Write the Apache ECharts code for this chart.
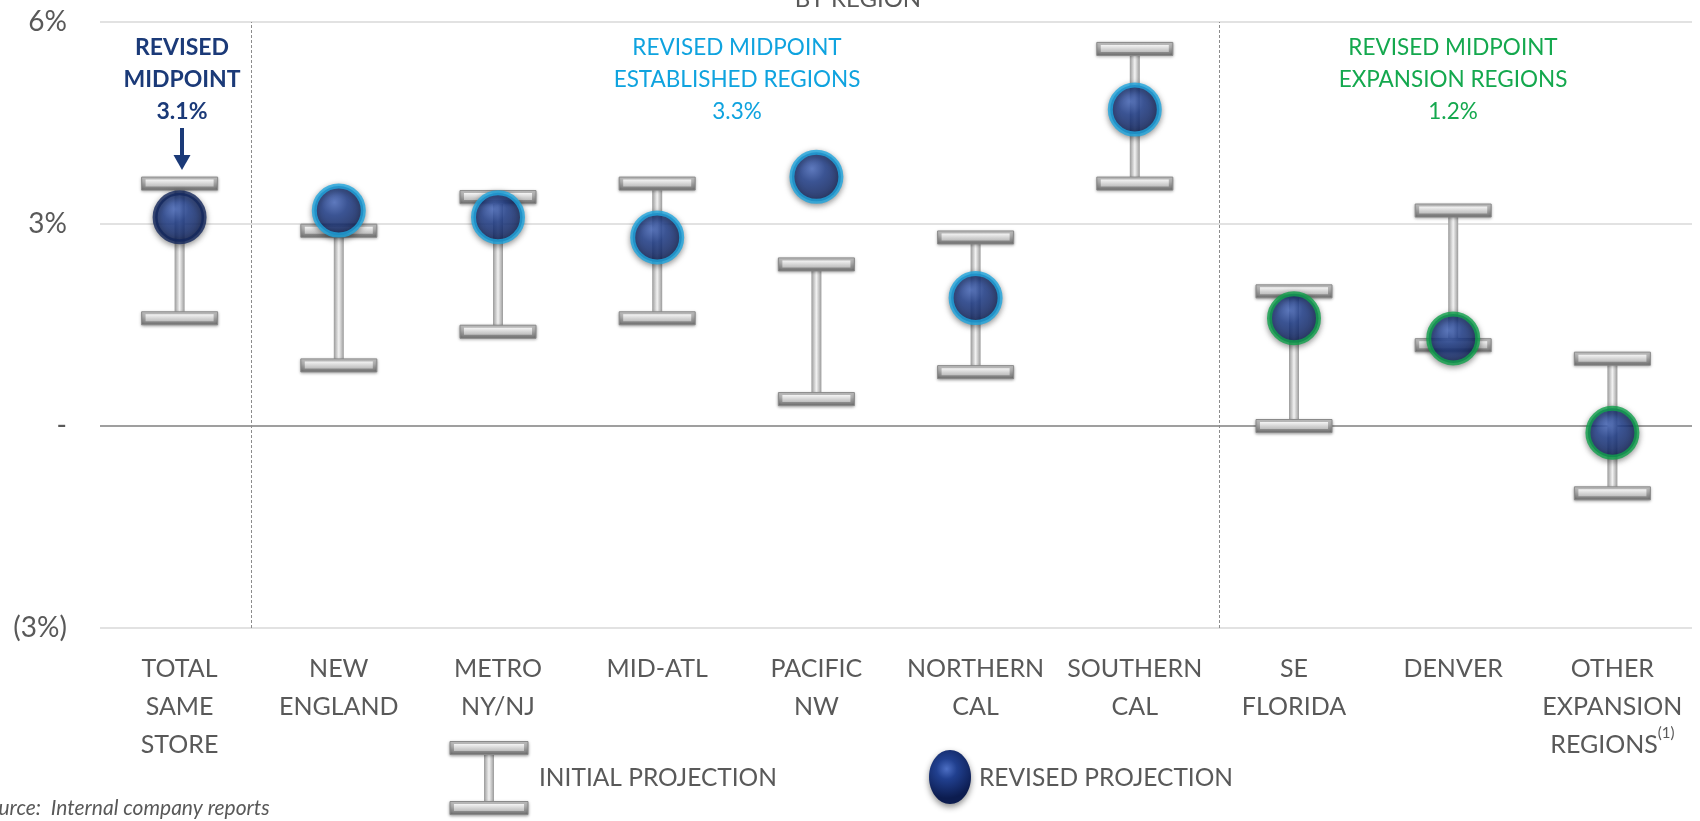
<!DOCTYPE html>
<html>
<head>
<meta charset="utf-8">
<script src="https://cdn.jsdelivr.net/npm/echarts@6/dist/echarts.min.js"></script>
<style>
html,body{margin:0;padding:0;background:#fff;}
#chart{width:1700px;height:821px;}
</style>
</head>
<body>
<div id="chart"></div>
<script>
// ---- data ----
const categories = ['TOTAL\nSAME\nSTORE','NEW\nENGLAND','METRO\nNY/NJ','MID-ATL','PACIFIC\nNW','NORTHERN\nCAL','SOUTHERN\nCAL','SE\nFLORIDA','DENVER','OTHER\nEXPANSION\nREGIONS'];
const initialLow  = [1.6, 0.9, 1.4, 1.6, 0.4, 0.8, 3.6, 0.0, 1.2, -1.0];
const initialHigh = [3.6, 2.9, 3.4, 3.6, 2.4, 2.8, 5.6, 2.0, 3.2, 1.0];
const revised     = [3.1, 3.2, 3.1, 2.8, 3.7, 1.9, 4.7, 1.6, 1.3, -0.1];
const groups      = ['total','est','est','est','est','est','est','exp','exp','exp'];
const yTickValues = [-3, 0, 3, 6];
const yTickLabels = ['(3%)', '-', '3%', '6%'];

const FONT = 'Lato';
const ringColor = { total: '#13275c', est: '#1ea6e0', exp: '#10a24c' };

const barData = categories.map((c, i) => [i, initialLow[i], initialHigh[i]]);
const dotData = revised.map((v, i) => ({
  value: [i, v],
  itemStyle: { borderColor: ringColor[groups[i]] }
}));

function capShape(x, y, w, h) {
  return [
    { type: 'rect', shape: { x: x - w / 2, y: y - h / 2, width: w, height: h },
      style: { fill: new echarts.graphic.LinearGradient(0, 0, 0, 1, [
        { offset: 0, color: '#d6d6d6' }, { offset: 1, color: '#6f6f6f' }]),
        stroke: '#8a8a8a', lineWidth: 1, shadowBlur: 3, shadowColor: 'rgba(0,0,0,0.35)', shadowOffsetY: 1 } },
    { type: 'rect', shape: { x: x - w / 2 + 4, y: y - h / 2 + 2.5, width: w - 8, height: h - 6 },
      style: { fill: new echarts.graphic.LinearGradient(0, 0, 0, 1, [
        { offset: 0, color: '#f4f4f4' }, { offset: 1, color: '#bdbdbd' }]) } }
  ];
}

function renderBar(params, api) {
  const i = api.value(0);
  const lo = api.coord([i, api.value(1)]);
  const hi = api.coord([i, api.value(2)]);
  const x = lo[0];
  const capW = 76, capH = 13, stemW = 10;
  const children = [
    { type: 'rect', shape: { x: x - stemW / 2, y: hi[1], width: stemW, height: lo[1] - hi[1] },
      style: { fill: new echarts.graphic.LinearGradient(0, 0, 1, 0, [
        { offset: 0, color: '#9a9a9a' }, { offset: 0.5, color: '#f2f2f2' }, { offset: 1, color: '#9a9a9a' }]) } }
  ].concat(capShape(x, hi[1], capW, capH), capShape(x, lo[1], capW, capH));
  return { type: 'group', children: children };
}

const dotFill = new echarts.graphic.RadialGradient(0.42, 0.35, 0.7, [
  { offset: 0, color: '#4d6fc4' },
  { offset: 0.35, color: '#21408f' },
  { offset: 1, color: '#0c1c4f' }
]);

const chart = echarts.init(document.getElementById('chart'), null, { renderer: 'canvas' });

const option = {
  backgroundColor: '#ffffff',
  animation: false,
  grid: { left: 100, right: 8, top: 22, bottom: 193 },
  xAxis: [
    {
      type: 'category', data: categories,
      axisLine: { show: false }, axisTick: { show: false },
      axisLabel: {
        interval: 0, margin: 22, color: '#595959', fontFamily: FONT, fontSize: 25, lineHeight: 38,
        formatter: function (v) { return v.replace('REGIONS', 'REGIONS{sup|(1)}'); },
        rich: { sup: { fontSize: 15, color: '#595959', fontFamily: FONT, verticalAlign: 'top', padding: [0, 0, 12, 0] } }
      }
    },
    { type: 'value', min: -0.5, max: 9.5, show: false }
  ],
  yAxis: {
    type: 'value', min: -3, max: 6, interval: 3,
    axisLine: { show: false }, axisTick: { show: false },
    axisLabel: {
      margin: 33, color: '#595959', fontFamily: FONT, fontSize: 28,
      formatter: function (v) { const k = yTickValues.indexOf(v); return k >= 0 ? yTickLabels[k] : ''; }
    },
    splitLine: { lineStyle: { color: ['#d9d9d9', '#7f7f7f', '#d9d9d9', '#d9d9d9'], width: 1.5 } }
  },
  series: [
    {
      type: 'line', xAxisIndex: 1, data: [], silent: true,
      markLine: {
        silent: true, symbol: 'none', label: { show: false },
        lineStyle: { type: [3, 2], color: '#8c8c8c', width: 1 },
        data: [{ xAxis: 0.45 }, { xAxis: 6.53 }]
      }
    },
    {
      type: 'custom', name: 'INITIAL PROJECTION', renderItem: renderBar, data: barData,
      encode: { x: 0, y: [1, 2] }, z: 2, silent: true
    },
    {
      type: 'scatter', name: 'REVISED PROJECTION', data: dotData, symbolSize: 49, z: 3, silent: true,
      itemStyle: { color: dotFill, borderWidth: 5, shadowBlur: 6, shadowColor: 'rgba(0,0,0,0.45)', shadowOffsetY: 2 }
    }
  ],
  graphic: [
    // clipped title
    { type: 'text', x: 858, y: -13, style: { text: 'BY REGION', fill: '#595959', font: '24px ' + FONT, align: 'center' } },
    // total midpoint annotation
    { type: 'text', x: 182, y: 32, style: { text: 'REVISED\nMIDPOINT\n3.1%', fill: '#1b3a78', font: 'bold 23px ' + FONT, align: 'center', lineHeight: 32 } },
    { type: 'rect', shape: { x: 180, y: 128, width: 4, height: 31 }, style: { fill: '#1b3a78' } },
    { type: 'polygon', shape: { points: [[173.5, 155], [190.5, 155], [182, 170]] }, style: { fill: '#1b3a78' } },
    // established
    { type: 'text', x: 737, y: 32, style: { text: 'REVISED MIDPOINT\nESTABLISHED REGIONS\n3.3%', fill: '#0fa3df', font: '22.5px ' + FONT, align: 'center', lineHeight: 32 } },
    // expansion
    { type: 'text', x: 1453, y: 32, style: { text: 'REVISED MIDPOINT\nEXPANSION REGIONS\n1.2%', fill: '#14a84e', font: '22.5px ' + FONT, align: 'center', lineHeight: 32 } },
    // legend: initial projection icon
    { type: 'rect', shape: { x: 484, y: 754, width: 10, height: 50 }, style: { fill: new echarts.graphic.LinearGradient(0, 0, 1, 0, [
        { offset: 0, color: '#9a9a9a' }, { offset: 0.5, color: '#f2f2f2' }, { offset: 1, color: '#9a9a9a' }]) } },
    { type: 'group', children: capShape(489, 748, 78, 13) },
    { type: 'group', children: capShape(489, 808, 78, 13) },
    { type: 'text', x: 539, y: 778, style: { text: 'INITIAL PROJECTION', fill: '#595959', font: '24.5px ' + FONT, verticalAlign: 'middle' } },
    // legend: revised projection icon
    { type: 'ellipse', shape: { cx: 950, cy: 777, rx: 21, ry: 27 }, style: { fill: dotFill, shadowBlur: 6, shadowColor: 'rgba(0,0,0,0.45)', shadowOffsetY: 3 } },
    { type: 'text', x: 979, y: 778, style: { text: 'REVISED PROJECTION', fill: '#595959', font: '24.5px ' + FONT, verticalAlign: 'middle' } },
    // source
    { type: 'text', x: -23, y: 808, style: { text: 'Source:  Internal company reports', fill: '#595959', font: 'italic 21px ' + FONT, verticalAlign: 'middle' } }
  ]
};
chart.setOption(option);
</script>
</body>
</html>
